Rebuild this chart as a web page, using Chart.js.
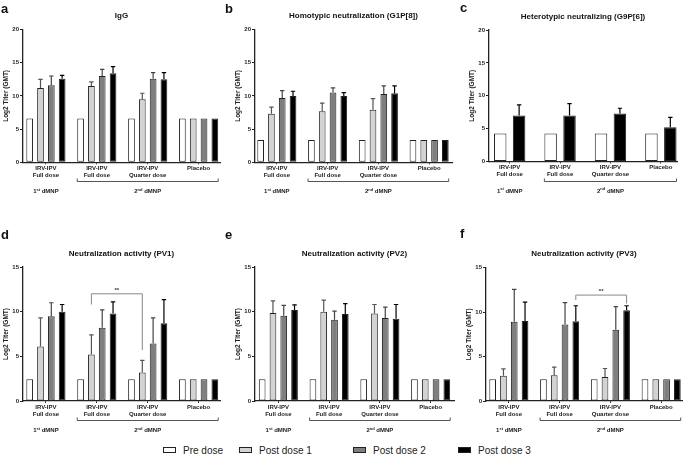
<!DOCTYPE html>
<html>
<head>
<meta charset="utf-8">
<title>Log2 titers</title>
<script src="https://cdn.jsdelivr.net/npm/chart.js@4.4.1/dist/chart.umd.min.js"></script>
<style>
  body { margin: 0; background: #fff; }
  #page { position: relative; width: 685px; height: 463px; overflow: hidden; font-family: "Liberation Sans", Arial, sans-serif; }
  #page canvas { position: absolute; }
  #legend { position: absolute; left: 0; top: 444px; width: 685px; height: 14px; font-size: 10px; color: #222; }
  #legend .item { position: absolute; top: 0; height: 14px; line-height: 14px; white-space: nowrap; }
  #legend .box { display: inline-block; box-sizing: border-box; width: 13px; height: 6px; border: 1px solid #222; margin-right: 7px; vertical-align: middle; position: relative; top: -1px; }
</style>
</head>
<body>
<div id="page">
  <canvas id="panelA" width="224" height="200" style="left:0px;top:0px"></canvas>
  <canvas id="panelB" width="231" height="200" style="left:224px;top:0px"></canvas>
  <canvas id="panelC" width="230" height="200" style="left:455px;top:0px"></canvas>
  <canvas id="panelD" width="224" height="218" style="left:0px;top:222px"></canvas>
  <canvas id="panelE" width="231" height="218" style="left:224px;top:222px"></canvas>
  <canvas id="panelF" width="230" height="218" style="left:455px;top:222px"></canvas>
  <div id="legend"></div>
</div>
<script>
// categories and series
const groupLabels = [["IRV-IPV", "Full dose"], ["IRV-IPV", "Full dose"], ["IRV-IPV", "Quarter dose"], ["Placebo"]];
const seriesNames = ["Pre dose", "Post dose 1", "Post dose 2", "Post dose 3"];
const dmnpLabels = [["1", "st", " dMNP"], ["2", "nd", " dMNP"]];
const ticks20 = [0, 5, 10, 15, 20];
const ticks15 = [0, 5, 10, 15];

// a - IgG (mean and mean+SD)
const iggPre = [6.6, 6.6, 6.6, 6.6];
const iggPd1 = [11.2, 11.5, 9.5, 6.6];
const iggPd2 = [11.6, 13.0, 12.6, 6.6];
const iggPd3 = [12.6, 13.4, 12.5, 6.6];
const iggPd1Err = [12.5, 12.1, 10.4, null];
const iggPd2Err = [13.0, 14.0, 13.5, null];
const iggPd3Err = [13.1, 14.4, 13.5, null];

// b - homotypic G1P[8]
const homPre = [3.35, 3.35, 3.35, 3.35];
const homPd1 = [7.3, 7.7, 7.9, 3.35];
const homPd2 = [9.7, 10.5, 10.3, 3.35];
const homPd3 = [10.0, 10.0, 10.4, 3.35];
const homPd1Err = [8.3, 8.9, 9.6, null];
const homPd2Err = [10.8, 11.2, 11.5, null];
const homPd3Err = [10.7, 10.5, 11.5, null];

// c - heterotypic G9P[6]
const hetPre = [4.27, 4.27, 4.27, 4.27];
const hetPd3 = [7.0, 7.0, 7.3, 5.2];
const hetPd3Err = [8.6, 8.8, 8.1, 6.7];

// d - PV1
const pv1Pre = [2.43, 2.43, 2.43, 2.43];
const pv1Pd1 = [6.1, 5.2, 3.2, 2.43];
const pv1Pd2 = [9.5, 8.2, 6.45, 2.43];
const pv1Pd3 = [10.0, 9.8, 8.7, 2.43];
const pv1Pd1Err = [9.3, 7.4, 4.55, null];
const pv1Pd2Err = [11.0, 10.2, 9.3, null];
const pv1Pd3Err = [10.8, 11.1, 11.35, null];

// e - PV2
const pv2Pre = [2.43, 2.43, 2.43, 2.43];
const pv2Pd1 = [9.85, 10.0, 9.8, 2.43];
const pv2Pd2 = [9.55, 9.1, 9.3, 2.43];
const pv2Pd3 = [10.2, 9.75, 9.2, 2.43];
const pv2Pd1Err = [11.2, 11.3, 10.8, null];
const pv2Pd2Err = [10.7, 10.05, 10.5, null];
const pv2Pd3Err = [10.75, 10.9, 10.8, null];

// f - PV3
const pv3Pre = [2.43, 2.43, 2.43, 2.43];
const pv3Pd1 = [2.85, 2.9, 2.7, 2.43];
const pv3Pd2 = [8.9, 8.6, 8.0, 2.43];
const pv3Pd3 = [9.0, 8.95, 10.2, 2.43];
const pv3Pd1Err = [3.6, 3.8, 3.65, null];
const pv3Pd2Err = [12.55, 11.05, 10.6, null];
const pv3Pd3Err = [11.1, 10.7, 10.7, null];

// significance brackets: [group, series] ends, bracket top, leg ends
const pv1Sig = { from: [1, 1], to: [2, 1], top: 12.0, ends: [10.8, 5.7], text: "**" };
const pv3Sig = { from: [1, 3], to: [2, 3], top: 11.9, ends: [11.35, 10.95], text: "**" };

const FONT = "'Liberation Sans', Arial, sans-serif";
Chart.defaults.font.family = FONT;
Chart.defaults.color = "#222";

const seriesFill = ["#ffffff", "#d3d3d3", "#7f7f7f", "#000000"];
const errColor = ["#333333", "#555555", "#444444", "#000000"];
const legendLeft = [163, 239, 353, 458];

function drawOrdinal(ctx, parts, cx, y) {
    const base = "bold 6px " + FONT;
    const small = "bold 4px " + FONT;
    ctx.font = base;
    const w0 = ctx.measureText(parts[0]).width;
    const w2 = ctx.measureText(parts[2]).width;
    ctx.font = small;
    const w1 = ctx.measureText(parts[1]).width;
    let x0 = cx - (w0 + w1 + w2) / 2;
    ctx.textAlign = "left";
    ctx.textBaseline = "alphabetic";
    ctx.font = base;
    ctx.fillText(parts[0], x0, y + 2);
    ctx.font = small;
    ctx.fillText(parts[1], x0 + w0, y - 0.5);
    ctx.font = base;
    ctx.fillText(parts[2], x0 + w0 + w1, y + 2);
}

const decor = {
    id: "decor",
    afterDatasetsDraw(chart) {
        const { ctx, scales: { y } } = chart;
        ctx.save();
        ctx.lineWidth = 1.2;
        chart.data.datasets.forEach((ds, i) => {
            if (!ds.errTop) return;
            ctx.strokeStyle = ds.errColor;
            chart.getDatasetMeta(i).data.forEach((bar, j) => {
                const v = ds.errTop[j];
                if (v == null) return;
                const yt = y.getPixelForValue(v);
                ctx.beginPath();
                ctx.moveTo(bar.x, bar.y);
                ctx.lineTo(bar.x, yt);
                ctx.moveTo(bar.x - 2.2, yt);
                ctx.lineTo(bar.x + 2.2, yt);
                ctx.stroke();
            });
        });
        ctx.restore();
    },
    afterDraw(chart, args, o) {
        const { ctx, chartArea: area, scales: { x, y } } = chart;
        ctx.save();
        ctx.fillStyle = "#111";
        ctx.textAlign = "left";
        ctx.textBaseline = "alphabetic";
        ctx.font = "bold 13px " + FONT;
        ctx.fillText(o.letter, o.letterX, o.letterY);

        ctx.textAlign = "center";
        ctx.textBaseline = "middle";
        ctx.font = "bold 8px " + FONT;
        ctx.fillText(o.title, (area.left + area.right) / 2, area.top - 13.5);

        // bracket under the 2nd dMNP groups
        const n = chart.data.datasets.length;
        const first = chart.getDatasetMeta(0).data[1];
        const last = chart.getDatasetMeta(n - 1).data[3];
        const bx1 = first.x - first.width / 2;
        const bx2 = last.x + last.width / 2;
        const by = Math.round(area.bottom + 19) + 0.5;
        ctx.strokeStyle = "#555";
        ctx.lineWidth = 1;
        ctx.beginPath();
        ctx.moveTo(bx1, by - 3);
        ctx.lineTo(bx1, by);
        ctx.lineTo(bx2, by);
        ctx.lineTo(bx2, by - 3);
        ctx.stroke();

        ctx.fillStyle = "#222";
        drawOrdinal(ctx, dmnpLabels[0], x.getPixelForValue(0), area.bottom + 29);
        drawOrdinal(ctx, dmnpLabels[1], x.getPixelForValue(2), area.bottom + 29);

        if (o.sig) {
            const s = o.sig;
            const b1 = chart.getDatasetMeta(s.from[1]).data[s.from[0]];
            const b2 = chart.getDatasetMeta(s.to[1]).data[s.to[0]];
            const yt = y.getPixelForValue(s.top);
            ctx.strokeStyle = "#888";
            ctx.lineWidth = 1;
            ctx.beginPath();
            ctx.moveTo(b1.x, y.getPixelForValue(s.ends[0]));
            ctx.lineTo(b1.x, yt);
            ctx.lineTo(b2.x, yt);
            ctx.lineTo(b2.x, y.getPixelForValue(s.ends[1]));
            ctx.stroke();
            ctx.font = "bold 6px " + FONT;
            ctx.textAlign = "center";
            ctx.textBaseline = "alphabetic";
            ctx.fillStyle = "#333";
            ctx.fillText(s.text, (b1.x + b2.x) / 2, yt - 2);
        }
        ctx.restore();
    }
};

const panels = [
    { canvas: "panelA", letter: "a", letterX: 1, letterY: 13, title: "IgG",
      axisL: 23, axisR: 220, axisT: 29.5, axisB: 162.3, xMin: -0.45, xMax: 3.42, yTicks: ticks20,
      series: [[0, iggPre, null], [1, iggPd1, iggPd1Err], [2, iggPd2, iggPd2Err], [3, iggPd3, iggPd3Err]],
      catPct: 0.85, barPct: 0.62 },
    { canvas: "panelB", letter: "b", letterX: 1, letterY: 13, title: "Homotypic neutralization (G1P[8])",
      axisL: 255, axisR: 452, axisT: 29.5, axisB: 162.3, xMin: -0.43, xMax: 3.45, yTicks: ticks20,
      series: [[0, homPre, null], [1, homPd1, homPd1Err], [2, homPd2, homPd2Err], [3, homPd3, homPd3Err]],
      catPct: 0.85, barPct: 0.62 },
    { canvas: "panelC", letter: "c", letterX: 5, letterY: 12, title: "Heterotypic neutralizing (G9P[6])",
      axisL: 489, axisR: 677, axisT: 30, axisB: 161.5, xMin: -0.41, xMax: 3.32, yTicks: ticks20,
      series: [[0, hetPre, null], [3, hetPd3, hetPd3Err]],
      catPct: 0.75, barPct: 0.66 },
    { canvas: "panelD", letter: "d", letterX: 1, letterY: 17, title: "Neutralization activity (PV1)",
      axisL: 23, axisR: 220, axisT: 267, axisB: 401, xMin: -0.45, xMax: 3.42, yTicks: ticks15,
      series: [[0, pv1Pre, null], [1, pv1Pd1, pv1Pd1Err], [2, pv1Pd2, pv1Pd2Err], [3, pv1Pd3, pv1Pd3Err]],
      catPct: 0.85, barPct: 0.62, sig: pv1Sig },
    { canvas: "panelE", letter: "e", letterX: 1, letterY: 17, title: "Neutralization activity (PV2)",
      axisL: 255, axisR: 454, axisT: 267, axisB: 401, xMin: -0.46, xMax: 3.46, yTicks: ticks15,
      series: [[0, pv2Pre, null], [1, pv2Pd1, pv2Pd1Err], [2, pv2Pd2, pv2Pd2Err], [3, pv2Pd3, pv2Pd3Err]],
      catPct: 0.85, barPct: 0.62 },
    { canvas: "panelF", letter: "f", letterX: 5, letterY: 16, title: "Neutralization activity (PV3)",
      axisL: 486, axisR: 682, axisT: 267.5, axisB: 401, xMin: -0.45, xMax: 3.41, yTicks: ticks15,
      series: [[0, pv3Pre, null], [1, pv3Pd1, pv3Pd1Err], [2, pv3Pd2, pv3Pd2Err], [3, pv3Pd3, pv3Pd3Err]],
      catPct: 0.85, barPct: 0.62, sig: pv3Sig },
];

function buildPanel(p) {
    const canvas = document.getElementById(p.canvas);
    const left = parseFloat(canvas.style.left);
    const top = parseFloat(canvas.style.top);
    const yAxisWidth = p.axisL - left;
    const titleLine = 6.5 * 1.2;

    const datasets = p.series.map(([idx, values, err]) => ({
        label: seriesNames[idx],
        data: values.map((v, i) => ({ x: i, y: v })),
        errTop: err,
        errColor: errColor[idx],
        backgroundColor: seriesFill[idx],
        borderColor: "#222",
        borderWidth: 1,
        borderSkipped: false,
        categoryPercentage: p.catPct,
        barPercentage: p.barPct,
    }));

    return new Chart(canvas.getContext("2d"), {
        type: "bar",
        data: { datasets },
        plugins: [decor],
        options: {
            responsive: false,
            animation: false,
            layout: {
                padding: { left: 0, top: p.axisT - top, right: canvas.width - (p.axisR - left), bottom: 0 },
            },
            plugins: {
                legend: { display: false },
                tooltip: { enabled: false },
                decor: { letter: p.letter, letterX: p.letterX, letterY: p.letterY, title: p.title, sig: p.sig },
            },
            scales: {
                x: {
                    type: "linear",
                    offset: false,
                    min: p.xMin,
                    max: p.xMax,
                    afterBuildTicks: (s) => { s.ticks = groupLabels.map((_, i) => ({ value: i })); },
                    afterFit: (s) => { s.height = canvas.height - (p.axisB - top); },
                    ticks: {
                        callback: (v) => groupLabels[v],
                        autoSkip: false,
                        maxRotation: 0,
                        padding: 1,
                        color: "#222",
                        font: { size: 6, weight: "bold", lineHeight: 1.1 },
                    },
                    grid: { offset: false, drawOnChartArea: false, tickLength: 2, color: "#222", lineWidth: 1 },
                    border: { display: true, color: "#222", width: 1.3 },
                },
                y: {
                    min: 0,
                    max: p.yTicks[p.yTicks.length - 1],
                    afterBuildTicks: (s) => { s.ticks = p.yTicks.map((v) => ({ value: v })); },
                    afterFit: (s) => { s.width = yAxisWidth; },
                    ticks: { padding: 1, color: "#222", font: { size: 6, weight: "bold" } },
                    grid: { drawOnChartArea: false, tickLength: 3, color: "#222", lineWidth: 1 },
                    border: { display: true, color: "#222", width: 1.3 },
                    title: {
                        display: true,
                        text: "Log2 Titer (GMT)",
                        color: "#222",
                        font: { size: 6.5, weight: "bold", lineHeight: 1.2 },
                        padding: { top: yAxisWidth - 17 - titleLine / 2, bottom: 0 },
                    },
                },
            },
        },
    });
}

panels.forEach(buildPanel);

// legend
const legend = document.getElementById("legend");
seriesNames.forEach((name, i) => {
    const item = document.createElement("span");
    item.className = "item";
    item.style.left = legendLeft[i] + "px";
    const box = document.createElement("span");
    box.className = "box";
    box.style.background = seriesFill[i];
    item.appendChild(box);
    item.appendChild(document.createTextNode(name));
    legend.appendChild(item);
});
</script>
</body>
</html>
